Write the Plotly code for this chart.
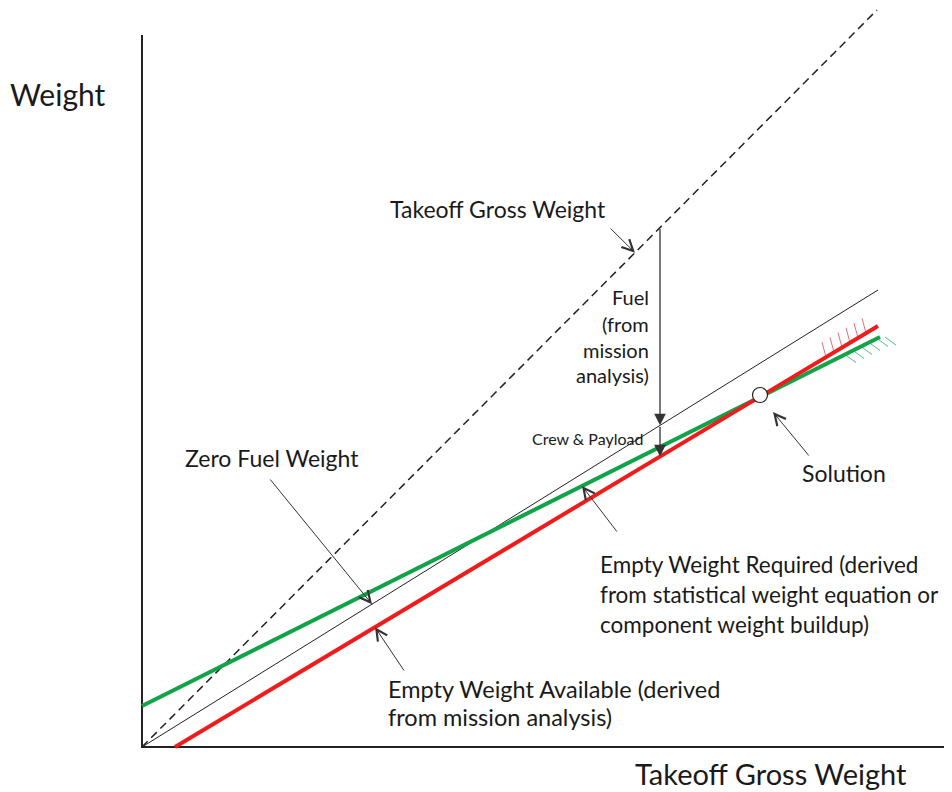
import numpy as np
import plotly.graph_objects as go

# ---- data (diagram units: 1 unit ~ 1 px) ----
tow_x = [0, 735]          # Takeoff Gross Weight (dashed, W = TOGW)
tow_y = [0, 737]
zfw_x = [0, 736]          # Zero Fuel Weight
zfw_y = [0, 457]
ewa_x = [33, 736]         # Empty Weight Available (red)
ewa_y = [0, 421]
ewr_x = [0, 738]          # Empty Weight Required (green)
ewr_y = [41, 410]
solution_x = [618]
solution_y = [352]
fuel_arrow_x = 518        # TOGW where fuel / payload are shown
red_hatch_x = [684, 692, 700, 708, 716, 724]
green_hatch_x = [703, 711, 719, 727, 735, 743]

FONT = "Lato"
RED = "#ee1c1c"
GREEN = "#12a24a"


def on_line(xs, ys, x):
    return float(np.interp(x, xs, ys))


fig = go.Figure()

# axes
fig.add_trace(go.Scatter(x=[0, 0, 810], y=[712, 0, 0], mode="lines",
                         line=dict(color="#222", width=2), hoverinfo="skip"))
# dashed TOGW line
fig.add_trace(go.Scatter(x=tow_x, y=tow_y, mode="lines",
                         line=dict(color="#222", width=1.5, dash="8px,5px")))
# zero fuel weight
fig.add_trace(go.Scatter(x=zfw_x, y=zfw_y, mode="lines",
                         line=dict(color="#222", width=1)))
# hatch marks
for hx in red_hatch_x:
    hy = on_line(ewa_x, ewa_y, hx)
    fig.add_trace(go.Scatter(x=[hx, hx - 4], y=[hy, hy + 15], mode="lines",
                             line=dict(color="#e0707a", width=1)))
for hx in green_hatch_x:
    hy = on_line(ewr_x, ewr_y, hx)
    fig.add_trace(go.Scatter(x=[hx, hx + 11], y=[hy, hy - 8], mode="lines",
                             line=dict(color="#4fbf8f", width=1)))
# empty weight lines
fig.add_trace(go.Scatter(x=ewr_x, y=ewr_y, mode="lines",
                         line=dict(color=GREEN, width=4)))
fig.add_trace(go.Scatter(x=ewa_x, y=ewa_y, mode="lines",
                         line=dict(color=RED, width=4)))
# solution point
fig.add_trace(go.Scatter(x=solution_x, y=solution_y, mode="markers",
                         marker=dict(size=15, color="white",
                                     line=dict(color="#222", width=1.2))))

ann = []


def txt(x, y, s, size, xanchor="left"):
    ann.append(dict(x=x, y=y, xref="x", yref="y", text=s, showarrow=False,
                    xanchor=xanchor, yanchor="middle",
                    font=dict(family=FONT, size=size, color="#1a1a1a")))


def pointer(x, y, ax, ay, head=5, size=2.2, width=1):
    ann.append(dict(x=x, y=y, ax=ax, ay=ay, xref="x", yref="y", axref="x", ayref="y",
                    text="", showarrow=True, arrowhead=head, arrowsize=size,
                    arrowwidth=width, arrowcolor="#333", standoff=0))


# fuel arrow & crew/payload arrow
fx = fuel_arrow_x
pointer(fx, on_line(zfw_x, zfw_y, fx), fx, on_line(tow_x, tow_y, fx), head=2, size=1.8, width=1.3)
pointer(fx, on_line(ewa_x, ewa_y, fx), fx, on_line(zfw_x, zfw_y, fx), head=2, size=1.8, width=1.3)

# pointers to lines
pointer(493, on_line(tow_x, tow_y, 493), 467, 520)
pointer(230, on_line(zfw_x, zfw_y, 230), 127, 269)
pointer(233, on_line(ewa_x, ewa_y, 233), 263, 75)
pointer(440, on_line(ewr_x, ewr_y, 440), 476, 214)
pointer(631, 335, 668, 290)

# labels
txt(-84, 653, "Weight", 30, "center")
txt(629, -26, "Takeoff Gross Weight", 29, "center")
txt(356, 538, "Takeoff Gross Weight", 23, "center")
txt(509, 450, "Fuel", 20, "right")
txt(509, 423, "(from", 20, "right")
txt(509, 397, "mission", 20, "right")
txt(509, 372, "analysis)", 20, "right")
txt(503, 309, "Crew & Payload", 16, "right")
txt(41, 289, "Zero Fuel Weight", 23)
txt(658, 274, "Solution", 23)
txt(456, 183, "Empty Weight Required (derived", 22.5)
txt(456, 153, "from statistical weight equation or", 22.5)
txt(456, 123, "component weight buildup)", 22.5)
txt(244, 58, "Empty Weight Available (derived", 23.5)
txt(244, 30, "from mission analysis)", 23.5)

# page body has an 8px margin: figure spans 944x784 with 1 data unit per px
fig.update_layout(
    width=944, height=784,
    margin=dict(l=0, r=0, t=0, b=0, pad=0),
    paper_bgcolor="white", plot_bgcolor="white",
    showlegend=False,
    xaxis=dict(range=[-134, 810], visible=False, fixedrange=True),
    yaxis=dict(range=[-45, 739], visible=False, fixedrange=True),
    annotations=ann,
)

fig.write_html("out.html")
